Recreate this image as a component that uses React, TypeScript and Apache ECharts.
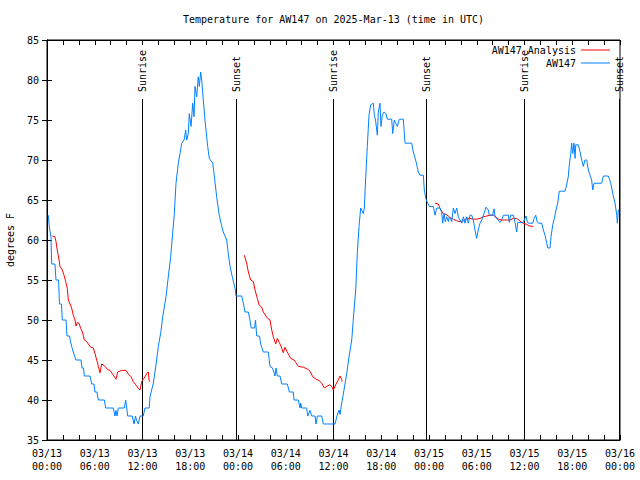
import React, { useEffect, useRef } from "react";
import * as echarts from "echarts";

const TITLE = "Temperature for AW147 on 2025-Mar-13 (time in UTC)";
const Y_NAME = "degrees F";
const DAYS = ["03/13", "03/14", "03/15", "03/16"];
const HOURS = ["00:00", "06:00", "12:00", "18:00"];

// hours since 03/13 00:00 UTC
const sunTimes = [11.9, 23.71, 35.88, 47.66, 59.98, 71.88];
const sunLabels = ["Sunrise", "Sunset", "Sunrise", "Sunset", "Sunrise", "Sunset"];

const obsData: [number, number][] = [
  [0.16, 63.1], [0.31, 61.5], [0.5, 60.4], [0.59, 57], [1.0, 57], [1.13, 55], [1.45, 55], [1.57, 52],
  [1.82, 52], [1.92, 50], [2.39, 50], [2.51, 48], [2.83, 48], [3.02, 47], [3.3, 46], [3.64, 45],
  [4.27, 45], [4.4, 44], [4.59, 44], [4.69, 43], [5.4, 43], [5.62, 42], [5.9, 42], [6.03, 41],
  [6.28, 41], [6.45, 40], [7.2, 40], [7.38, 39], [8.33, 39], [8.54, 38], [8.67, 38.7], [8.8, 38],
  [8.96, 39], [9.71, 39], [9.89, 40], [10.14, 38], [10.72, 38], [10.93, 37], [11.12, 38], [11.25, 37.5],
  [11.47, 37], [11.69, 38], [12.1, 38], [12.31, 39], [12.85, 39], [12.94, 40.4], [13.36, 42.1], [13.7, 44.4],
  [13.99, 46.7], [14.29, 48.4], [14.54, 50.4], [14.95, 52.9], [15.24, 55.4], [15.54, 57.9], [15.75, 60.4], [16.0, 63.3],
  [16.21, 67.1], [16.5, 69.6], [16.71, 70.8], [16.93, 72.1], [17.22, 72.5], [17.43, 73.75], [17.55, 72.5], [17.76, 73.3],
  [17.88, 75.8], [18.1, 74.2], [18.31, 77.1], [18.47, 75.4], [18.6, 79.2], [18.81, 77.9], [19.01, 80.4], [19.14, 79.2],
  [19.31, 81.0], [19.44, 80], [19.64, 77.5], [19.85, 75], [20.19, 71.7], [20.39, 70.2], [20.82, 69.6], [20.99, 68.3],
  [21.32, 65.4], [21.61, 63.3], [21.86, 62.1], [22.15, 61], [22.58, 60], [22.78, 58.3], [23.0, 56.7], [23.28, 55.4],
  [23.62, 54], [23.75, 53], [24.47, 53], [24.67, 52.1], [24.88, 51], [25.3, 51], [25.5, 50], [25.67, 49],
  [26.08, 49], [26.2, 50], [26.35, 48], [26.7, 48], [26.85, 47], [27.18, 46], [27.81, 46], [28.02, 44.2],
  [28.34, 44], [28.65, 43], [28.78, 44], [28.94, 43], [29.28, 43], [29.49, 42], [30.2, 42], [30.45, 41],
  [30.95, 41], [31.04, 40], [31.58, 40], [31.79, 39], [31.88, 39.6], [32.0, 39], [32.63, 39], [32.76, 38],
  [33.05, 38.7], [33.26, 38], [33.68, 38], [33.8, 37], [33.97, 38], [34.52, 38], [34.72, 37], [36.19, 37],
  [36.44, 38], [36.69, 38.75], [36.82, 38.2], [37.03, 39.6], [37.32, 41.25], [37.66, 43.3], [37.95, 45.4], [38.29, 47.5],
  [38.58, 51.25], [38.79, 53.75], [38.99, 58.3], [39.21, 61.7], [39.42, 64], [39.75, 63.3], [39.87, 64], [40.05, 67.9],
  [40.25, 71.7], [40.46, 75.6], [40.68, 76.9], [41.0, 77.1], [41.13, 75.6], [41.28, 75], [41.51, 73.1], [41.63, 76],
  [41.84, 77.1], [41.97, 74.2], [42.13, 75.6], [42.35, 76], [42.6, 75.8], [42.76, 75.1], [43.31, 75.1], [43.44, 73.3],
  [43.64, 75], [43.81, 74.6], [44.02, 74.2], [44.27, 75.1], [44.77, 75.1], [44.99, 72.1], [45.83, 72.1], [46.03, 71],
  [46.37, 69.8], [46.66, 68.5], [46.87, 68.1], [47.29, 68.1], [47.41, 66.25], [47.59, 65.2], [47.75, 64.8], [48.04, 64.2],
  [48.54, 64.2], [48.76, 63.1], [48.97, 64], [49.38, 64], [49.59, 63.5], [49.72, 62.1], [49.89, 63.3], [50.05, 62.3],
  [50.22, 62.9], [50.43, 62.3], [50.55, 62.9], [50.73, 62.6], [50.85, 62.3], [51.06, 64], [51.27, 63.3], [51.48, 64],
  [51.69, 62.9], [51.9, 62.5], [52.11, 62.1], [52.32, 62.9], [52.53, 62.1], [52.74, 62.9], [52.94, 62.1], [53.15, 63.1],
  [53.36, 63.1], [53.57, 62.5], [53.78, 61.25], [53.99, 60.2], [54.19, 61.25], [54.41, 62.1], [54.62, 62.5], [54.91, 63.3],
  [55.16, 64.1], [55.45, 63.75], [55.58, 63.1], [56.0, 63.1], [56.17, 63.9], [56.3, 62.9], [56.71, 62.5], [56.92, 62.2],
  [57.13, 62.5], [57.34, 63.1], [57.97, 63.1], [58.09, 62.2], [58.26, 63.1], [58.6, 63.1], [58.81, 62.2], [59.02, 61],
  [59.15, 62.2], [59.85, 62.2], [60.19, 63], [60.36, 62.3], [60.48, 62.1], [61.04, 62.1], [61.2, 62.7], [61.41, 63.1],
  [61.58, 62.3], [61.74, 62.1], [62.17, 62.1], [62.37, 61.25], [62.58, 60.6], [62.79, 59.6], [62.92, 59], [63.21, 59],
  [63.33, 60.4], [63.55, 61.9], [63.75, 62.7], [63.96, 63.75], [64.17, 64.6], [64.37, 66.1], [65.09, 66.1], [65.3, 66.9],
  [65.5, 67.9], [65.63, 69.4], [65.81, 70.8], [65.93, 72.1], [66.06, 70.8], [66.22, 72.1], [66.35, 70.2], [66.44, 71.9],
  [66.76, 71.9], [66.98, 71], [67.19, 70], [67.39, 69.2], [67.6, 70], [67.82, 70], [68.02, 68.75], [68.23, 68.1],
  [68.44, 67.5], [68.57, 66.25], [68.74, 67.1], [68.99, 67.1], [69.7, 67.1], [69.91, 68], [70.54, 68], [70.84, 67.1],
  [71.09, 65.8], [71.38, 64.6], [71.59, 63.1], [71.67, 62.1], [71.79, 63.75], [71.92, 63.75],
];

const analysisNight1: [number, number][] = [
  [0.67, 60.5], [1.0, 60.4], [1.13, 59.8], [1.29, 58.75], [1.51, 57.5], [1.63, 56.7], [1.76, 56.5], [1.92, 56.25],
  [2.14, 55.6], [2.35, 54.8], [2.55, 53.96], [2.68, 52.5], [2.89, 52], [3.1, 51.5], [3.3, 50.6], [3.52, 50],
  [3.64, 49.25], [3.81, 49.7], [4.02, 49.6], [4.23, 48.96], [4.44, 48.5], [4.56, 48.1], [4.69, 47.5], [4.99, 47.3],
  [5.19, 47], [5.49, 46.6], [5.82, 46.5], [6.03, 45.8], [6.25, 45], [6.45, 44.2], [6.66, 43.4], [6.87, 44.5],
  [7.2, 44.3], [7.63, 43.8], [7.92, 43.7], [8.33, 43.1], [8.67, 42.6], [8.88, 43.5], [9.39, 43.7], [9.93, 43.7],
  [10.22, 43.25], [10.56, 42.9], [10.84, 42.3], [11.15, 41.9], [11.47, 41.46], [11.69, 41.25], [11.9, 42.3], [12.1, 42.6],
  [12.31, 42.9], [12.53, 43.3], [12.73, 43.5], [12.85, 42.3],
];

const analysisNight2: [number, number][] = [
  [24.79, 58.1], [25.09, 57.1], [25.3, 56], [25.6, 55], [25.93, 54.8], [26.14, 53.75], [26.43, 52.7], [26.64, 51.9],
  [26.98, 51.6], [27.18, 51], [27.52, 50.5], [27.73, 50.2], [28.02, 50], [28.24, 48.75], [28.44, 47.9], [28.74, 47],
  [28.94, 47.7], [29.19, 47.2], [29.49, 46.5], [29.69, 45.9], [29.91, 46.6], [30.12, 46.1], [30.41, 45.6], [30.62, 45.2],
  [31.04, 45], [31.25, 44.7], [31.58, 44.2], [32.21, 44.1], [32.84, 43.8], [33.05, 43.6], [33.39, 42.9], [33.8, 42.6],
  [34.22, 42.4], [34.52, 42.1], [34.85, 41.5], [35.15, 41.7], [35.56, 41.9], [35.77, 41.7], [35.98, 41.25], [36.32, 42],
  [36.6, 42.5], [36.82, 43], [37.03, 42.6], [37.07, 42.3],
];

const analysisNight3: [number, number][] = [
  [48.76, 64.6], [49.17, 64.5], [49.38, 63.96], [49.59, 63.6], [49.8, 63.3], [50.14, 63.2], [50.43, 63], [50.64, 62.8],
  [51.06, 62.6], [51.48, 62.4], [51.9, 62.3], [52.32, 62.4], [52.74, 62.7], [53.15, 62.7], [53.57, 62.6], [53.99, 62.6],
  [54.41, 62.7], [54.82, 62.9], [55.25, 63], [55.67, 63.1], [56.08, 63.1], [56.42, 62.9], [56.71, 62.6], [57.13, 62.5],
  [57.76, 62.5], [58.18, 62.5], [58.6, 62.7], [59.02, 62.7], [59.3, 62.5], [59.64, 62.2], [60.07, 62], [60.28, 61.96],
  [60.61, 61.75], [61.11, 61.7],
];

const FONT_FAMILY = '"DejaVu Sans Mono", "Liberation Mono", monospace';

export default function App() {
  const ref = useRef<HTMLDivElement>(null);
  useEffect(() => {
    if (!ref.current) return;
    const chart = echarts.init(ref.current, undefined, { renderer: "svg" });

    const analysisData: any[] = [];
    [analysisNight1, analysisNight2, analysisNight3].forEach((seg, i) => {
      if (i > 0) analysisData.push([seg[0][0] - 0.5, null]);
      seg.forEach((p) => analysisData.push(p));
    });

    const xLabel = (v: number) => {
      if (Math.abs(v % 6) > 1e-6) return "";
      const day = Math.floor(v / 24);
      const hr = Math.round((v % 24) / 6);
      return DAYS[day] + "\n" + HOURS[hr];
    };

    const axisCommon = {
      axisLine: { show: true, lineStyle: { color: "#000", width: 1 } },
      axisTick: { show: true, inside: true, length: 5, lineStyle: { color: "#000", width: 1 } },
      splitLine: { show: false },
    };

    chart.setOption({
      animation: false,
      backgroundColor: "#fff",
      title: {
        text: TITLE,
        left: 183,
        top: 14,
        padding: 0,
        textStyle: { fontFamily: FONT_FAMILY, fontSize: 10, fontWeight: "normal", color: "#000" },
      },
      legend: {
        data: ["AW147 Analysis", "AW147"],
        orient: "vertical",
        align: "right",
        right: 30,
        top: 45,
        padding: 0,
        icon: "rect",
        itemWidth: 29,
        itemHeight: 1,
        itemGap: 3,
        textStyle: { fontFamily: FONT_FAMILY, fontSize: 10, color: "#000", lineHeight: 10 },
      },
      grid: {
        left: 47,
        right: 20,
        top: 40,
        bottom: 40,
        show: true,
        borderColor: "#000",
        borderWidth: 1,
        containLabel: false,
        outerBoundsMode: "none",
      },
      xAxis: [
        {
          type: "value",
          min: 0,
          max: 72,
          interval: 2,
          position: "bottom",
          ...axisCommon,
          axisLabel: {
            formatter: xLabel,
            fontFamily: FONT_FAMILY,
            fontSize: 10,
            color: "#000",
            lineHeight: 13,
            margin: 7,
          },
        },
        {
          type: "value",
          min: 0,
          max: 72,
          interval: 2,
          position: "top",
          ...axisCommon,
          axisLabel: { show: false },
        },
      ],
      yAxis: [
        {
          type: "value",
          min: 35,
          max: 85,
          interval: 5,
          position: "left",
          name: Y_NAME,
          nameLocation: "middle",
          nameGap: 32,
          nameTextStyle: { fontFamily: FONT_FAMILY, fontSize: 10, color: "#000" },
          ...axisCommon,
          axisLabel: { fontFamily: FONT_FAMILY, fontSize: 10, color: "#000", margin: 8 },
        },
        {
          type: "value",
          min: 35,
          max: 85,
          interval: 5,
          position: "right",
          ...axisCommon,
          axisLabel: { show: false },
        },
      ],
      series: [
        {
          type: "custom",
          name: "sun",
          xAxisIndex: 0,
          yAxisIndex: 0,
          silent: true,
          data: sunTimes.map((t, i) => [t, 35, i]),
          encode: { x: 0, y: 1 },
          renderItem: (params: any, api: any) => {
            const x = Math.round(api.coord([api.value(0), 35])[0]) + 0.5;
            const cs = params.coordSys;
            const top = cs.y;
            const bottom = cs.y + cs.height;
            const label = sunLabels[api.value(2)];
            return {
              type: "group",
              children: [
                {
                  type: "line",
                  shape: { x1: x, y1: top + 59, x2: x, y2: bottom },
                  style: { stroke: "#000", lineWidth: 1 },
                },
                {
                  type: "text",
                  x: x,
                  y: top + 52,
                  rotation: Math.PI / 2,
                  style: {
                    text: label,
                    fill: "#000",
                    font: "10px " + FONT_FAMILY,
                    align: "left",
                    verticalAlign: "middle",
                  },
                },
              ],
            };
          },
          z: 1,
        },
        {
          type: "line",
          name: "AW147 Analysis",
          xAxisIndex: 0,
          yAxisIndex: 0,
          data: analysisData,
          symbol: "none",
          showSymbol: false,
          connectNulls: false,
          lineStyle: { color: "#ff0000", width: 1 },
          itemStyle: { color: "#ff0000" },
          z: 2,
        },
        {
          type: "line",
          name: "AW147",
          xAxisIndex: 0,
          yAxisIndex: 0,
          data: obsData,
          symbol: "none",
          showSymbol: false,
          lineStyle: { color: "#0080ff", width: 1 },
          itemStyle: { color: "#0080ff" },
          z: 3,
        },
      ],
    });
    return () => chart.dispose();
  }, []);
  return <div ref={ref} style={{ width: 640, height: 480, position: "absolute", left: 0, top: 0 }} />;
}
